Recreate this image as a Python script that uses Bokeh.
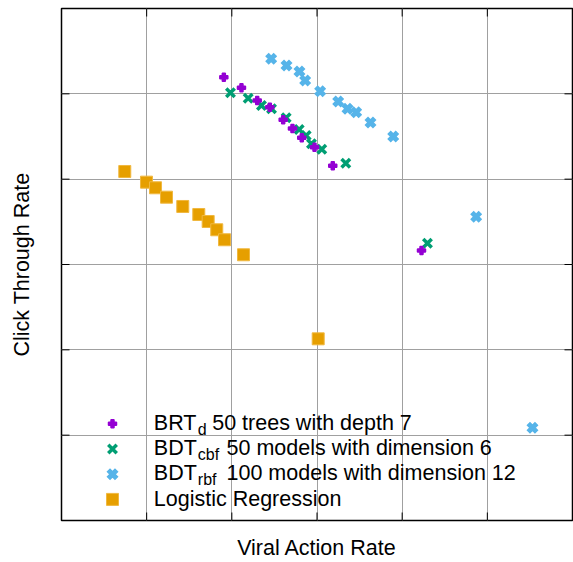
from bokeh.plotting import figure
from bokeh.models import Range1d, Grid, FixedTicker, Label
from bokeh.embed import file_html
from bokeh.resources import INLINE
import math

# ---- data (axes have no numeric labels, units = grid cells) ----
brt_x = [1.906, 2.113, 2.298, 2.446, 2.603, 2.712, 2.821, 2.971, 3.185, 4.227]
brt_y = [5.195, 5.071, 4.922, 4.844, 4.696, 4.594, 4.485, 4.375, 4.157, 3.164]

cbf_x = [1.984, 2.192, 2.348, 2.466, 2.638, 2.791, 2.873, 2.935, 3.056, 3.338, 4.297]
cbf_y = [5.012, 4.949, 4.863, 4.825, 4.719, 4.582, 4.512, 4.415, 4.351, 4.187, 3.250]

rbf_x = [2.462, 2.642, 2.794, 2.861, 3.037, 3.249, 3.358, 3.460, 3.628, 3.895, 4.869, 5.530]
rbf_y = [5.411, 5.332, 5.262, 5.156, 5.031, 4.910, 4.825, 4.785, 4.664, 4.500, 3.559, 1.086]

lr_x = [0.743, 0.998, 1.104, 1.233, 1.424, 1.612, 1.722, 1.823, 1.914, 2.137, 3.014]
lr_y = [4.090, 3.965, 3.899, 3.789, 3.680, 3.586, 3.504, 3.407, 3.290, 3.114, 2.129]

ticks = [1, 2, 3, 4, 5]
x_label = "Viral Action Rate"
y_label = "Click Through Rate"

PURPLE = "#9400d3"
GREEN = "#009e73"
BLUE = "#56b4e9"
ORANGE = "#e69f00"
FONT = "Liberation Sans"

W, H = 573, 562
L, R, T, B = 61, 1, 8, 42
XMAX, YMAX = 6, 6

p = figure(width=W, height=H, output_backend="svg", toolbar_location=None,
           x_range=Range1d(0, XMAX), y_range=Range1d(0, YMAX),
           min_border_left=L, min_border_right=R, min_border_top=T, min_border_bottom=B)
p.outline_line_color = "black"
p.outline_line_width = 1.5
p.background_fill_color = "white"
p.border_fill_color = "white"
p.grid.visible = False

for ax, lab, so in ((p.xaxis[0], x_label, 15), (p.yaxis[0], y_label, 28)):
    ax.ticker = FixedTicker(ticks=[])
    ax.major_label_text_font_size = "0px"
    ax.major_tick_in = 0
    ax.major_tick_out = 0
    ax.minor_tick_in = 0
    ax.minor_tick_out = 0
    ax.axis_line_color = None
    ax.major_label_standoff = 0
    ax.axis_label = lab
    ax.axis_label_standoff = so
    ax.axis_label_text_font = FONT
    ax.axis_label_text_font_size = "21.5px"
    ax.axis_label_text_font_style = "normal"
    ax.axis_label_text_color = "black"

fw = W - L - R
fh = H - T - B
sxu = fw / XMAX   # px per x unit
syu = fh / YMAX   # px per y unit

def dx(px):
    return (px - L) / sxu

def dy(py):
    return (H - B - py) / syu

for dim in (0, 1):
    g = Grid(dimension=dim, ticker=FixedTicker(ticks=ticks),
             grid_line_color="#a0a0a0", grid_line_width=1)
    p.add_layout(g)

# inward ticks on all four sides
tl_x = 8 / sxu
tl_y = 8 / syu
p.segment(x0=ticks, y0=[0] * 5, x1=ticks, y1=[tl_y] * 5, line_color="black", line_width=1)
p.segment(x0=ticks, y0=[YMAX] * 5, x1=ticks, y1=[YMAX - tl_y] * 5, line_color="black", line_width=1)
p.segment(x0=[0] * 5, y0=ticks, x1=[tl_x] * 5, y1=ticks, line_color="black", line_width=1)
p.segment(x0=[XMAX] * 5, y0=ticks, x1=[XMAX - tl_x] * 5, y1=ticks, line_color="black", line_width=1)

def draw_lr(x, y):
    p.scatter(x, y, marker="square", size=12, fill_color=ORANGE, line_color="#f0b840", line_width=1)

def draw_rbf(x, y):
    p.scatter(x, y, marker="x", size=12, line_color=BLUE, line_width=5)

def draw_cbf(x, y):
    p.scatter(x, y, marker="x", size=12, line_color=GREEN, line_width=3.5)

def draw_brt(x, y):
    p.scatter(x, y, marker="plus", size=8, fill_color=PURPLE, line_color=PURPLE, line_width=1.5)

draw_lr(lr_x, lr_y)
draw_rbf(rbf_x, rbf_y)
draw_cbf(cbf_x, cbf_y)
draw_brt(brt_x, brt_y)

# legend (manual, for subscripts)
MAIN = "21.5px"
SUB = "16px"
rows = [
    (draw_brt, [("BRT", 153.3, 0, MAIN), ("d", 197.3, 6, SUB), ("50 trees with depth 7", 211.7, 0, MAIN)]),
    (draw_cbf, [("BDT", 153.3, 0, MAIN), ("cbf", 197.3, 6, SUB), ("50 models with dimension 6", 226.0, 0, MAIN)]),
    (draw_rbf, [("BDT", 153.3, 0, MAIN), ("rbf", 197.3, 6, SUB), ("100 models with dimension 12", 226.0, 0, MAIN)]),
    (draw_lr, [("Logistic Regression", 153.3, 0, MAIN)]),
]
base0 = 422.5
step = 25.2
for i, (drawer, pieces) in enumerate(rows):
    base = base0 + i * step
    drawer([dx(112)], [dy(423.3 + i * step)])
    for txt, px, off, fs in pieces:
        p.add_layout(Label(x=dx(px), y=dy(base + off), text=txt, text_font=FONT, text_font_size=fs,
                           text_align="left", text_baseline="alphabetic", text_color="black"))

open("out.html", "w").write(file_html(p, INLINE))
